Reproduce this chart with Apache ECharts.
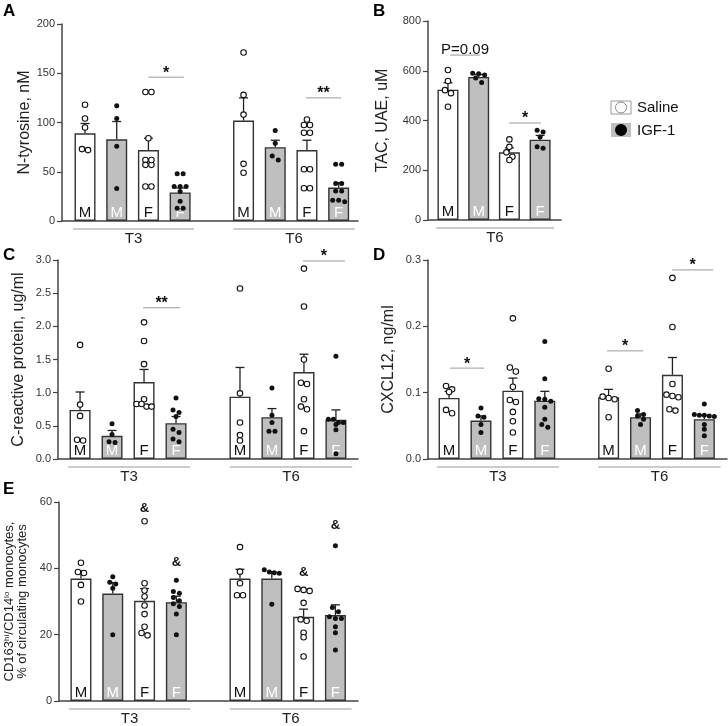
<!DOCTYPE html>
<html><head><meta charset="utf-8">
<script src="https://cdn.jsdelivr.net/npm/echarts@6/dist/echarts.min.js"></script>
<style>html,body{margin:0;padding:0;background:#fff}#c{width:728px;height:726px}</style>
</head><body><div id="c"></div><script>
const FONT = "'Liberation Sans', Arial, Helvetica, sans-serif";

// ---------- shared categories ----------
const groupX = [0, 1, 2, 3, 5, 6, 7, 8];
const groupSex = ['M', 'M', 'F', 'F', 'M', 'M', 'F', 'F'];
const groupTreat = ['Saline', 'IGF-1', 'Saline', 'IGF-1', 'Saline', 'IGF-1', 'Saline', 'IGF-1'];
const timeLabels = ['T3', 'T6'];
const timeSpans = [[-0.38, 3.44], [4.68, 8.51]];

const bGroupX = [0, 1, 2, 3];
const bSex = ['M', 'M', 'F', 'F'];
const bTreat = ['Saline', 'IGF-1', 'Saline', 'IGF-1'];
const bTimeLabels = ['T6'];
const bTimeSpans = [[-0.39, 3.45]];

// ---------- Panel A: N-tyrosine, nM ----------
const aMean = [89, 83, 72, 29, 102, 75, 72, 34];
const aSem = [10, 18, 12, 4.5, 23, 7, 10, 5];
const aPoints = [
  [118, 104, 95, 73, 72],
  [117, 104, 76, 33],
  [131, 131, 84, 62, 57, 57, 62, 35, 35],
  [48, 48, 35, 35, 35, 30, 20, 13, 13],
  [171, 128, 108, 58, 49],
  [92, 79, 66, 62],
  [103, 97.5, 97.5, 89.6, 89.6, 52.5, 52.5, 33.2, 33.2],
  [57.5, 57.5, 38, 38, 30.5, 30.5, 21, 19.5, 21]
];
const aSig = [{from: 2, to: 3.12, y: 146, text: '*'}, {from: 6.97, to: 8.08, y: 125, text: '**'}];

// ---------- Panel B: TAC, UAE, uM ----------
const bMean = [524, 575, 272, 323];
const bSem = [28, 10, 18, 17];
const bPoints = [
  [603, 559, 522, 510, 455],
  [590, 588, 583, 571, 553],
  [324, 294, 272, 254, 241],
  [361, 354, 334, 294, 288]
];
const bSig = [{from: 0.07, to: 1.04, y: 663, text: 'P=0.09', p: true}, {from: 1.99, to: 3.03, y: 390, text: '*'}];

// ---------- Panel C: C-reactive protein, ug/ml ----------
const cMean = [0.74, 0.35, 1.16, 0.54, 0.94, 0.63, 1.31, 0.59];
const cSem = [0.27, 0.08, 0.19, 0.10, 0.44, 0.13, 0.27, 0.15];
const cPoints = [
  [1.72, 0.82, 0.65, 0.29, 0.28],
  [0.53, 0.37, 0.25, 0.26],
  [2.06, 1.78, 1.43, 0.90, 0.83, 0.79, 0.79, 0.83],
  [0.92, 0.74, 0.70, 0.64, 0.45, 0.40, 0.30, 0.26],
  [2.57, 0.99, 0.55, 0.36, 0.28],
  [1.07, 0.66, 0.55, 0.42, 0.42],
  [2.87, 2.30, 1.50, 1.15, 1.13, 0.90, 0.79, 0.75, 0.42],
  [1.55, 0.60, 0.60, 0.55, 0.55, 0.52, 0.44, 0.08]
];
const cSig = [{from: 1.97, to: 3.13, y: 2.28, text: '**'}, {from: 6.97, to: 8.28, y: 2.985, text: '*'}];

// ---------- Panel D: CXCL12, ng/ml ----------
const dMean = [0.092, 0.058, 0.103, 0.088, 0.093, 0.063, 0.127, 0.060];
const dSem = [0.010, 0.007, 0.019, 0.014, 0.012, 0.005, 0.026, 0.006];
const dPoints = [
  [0.110, 0.105, 0.101, 0.074, 0.069],
  [0.077, 0.065, 0.063, 0.052, 0.040],
  [0.212, 0.138, 0.132, 0.109, 0.089, 0.086, 0.071, 0.057, 0.040],
  [0.177, 0.121, 0.091, 0.090, 0.087, 0.078, 0.060, 0.052, 0.048],
  [0.136, 0.094, 0.092, 0.090, 0.063],
  [0.073, 0.067, 0.065, 0.060, 0.052],
  [0.273, 0.199, 0.113, 0.097, 0.095, 0.093, 0.075, 0.073],
  [0.083, 0.067, 0.066, 0.066, 0.065, 0.064, 0.052, 0.045, 0.035]
];
const dSig = [
  {from: 0.03, to: 1.10, y: 0.137, text: '*'},
  {from: 4.95, to: 6.08, y: 0.163, text: '*'},
  {from: 6.99, to: 8.28, y: 0.285, text: '*'}
];

// ---------- Panel E: CD163hi/CD14lo monocytes ----------
const eMean = [36.9, 32.4, 30.2, 29.8, 36.9, 36.9, 25.4, 25.9];
const eSem = [2.3, 3.3, 3.7, 1.8, 2.8, 2.1, 2.3, 3.1];
const ePoints = [
  [41.7, 38.9, 38.6, 35.0, 30.0],
  [37.5, 35.8, 35.3, 34.0, 20.0],
  [54.2, 35.5, 33.3, 31.5, 28.8, 26.2, 22.4, 20.5, 19.8],
  [36.4, 33.0, 32.5, 31.2, 30.2, 29.3, 28.5, 26.2, 20.0],
  [46.4, 39.0, 35.5, 31.9, 31.9],
  [39.6, 38.9, 38.7, 38.5, 29.2],
  [33.8, 33.2, 33.5, 29.6, 24.6, 24.2, 20.6, 19.2, 13.4],
  [46.8, 28.2, 26.9, 25.4, 24.9, 24.9, 22.4, 20.6, 15.4]
];
const eMarks = [{x: 2, y: 58.2, text: '&'}, {x: 3, y: 41.9, text: '&'}, {x: 7, y: 38.9, text: '&'}, {x: 8, y: 52.8, text: '&'}];

// ---------- layout ----------
const panels = [
  {letter: 'A', lx: 3, ly: 3, grid: [62, 24, 296, 197], xr: [-0.726, 8.61], yr: [0, 200, 50], dec: 0,
   name: 'N-tyrosine, nM', nameSize: 16, gap: 25,
   xs: groupX, sex: groupSex, treat: groupTreat, mean: aMean, sem: aSem, pts: aPoints,
   tl: timeLabels, ts: timeSpans, sig: aSig, marks: []},
  {letter: 'B', lx: 373, ly: 3, grid: [428, 21, 133, 199], xr: [-0.65, 3.68], yr: [0, 800, 200], dec: 0,
   name: 'TAC, UAE, uM', nameSize: 16, gap: 37,
   xs: bGroupX, sex: bSex, treat: bTreat, mean: bMean, sem: bSem, pts: bPoints,
   tl: bTimeLabels, ts: bTimeSpans, sig: bSig, marks: []},
  {letter: 'C', lx: 3, ly: 247, grid: [58, 260, 300, 199], xr: [-0.69, 8.69], yr: [0, 3, 0.5], dec: 1,
   name: 'C-reactive protein, ug/ml', nameSize: 16, gap: 31,
   xs: groupX, sex: groupSex, treat: groupTreat, mean: cMean, sem: cSem, pts: cPoints,
   tl: timeLabels, ts: timeSpans, sig: cSig, marks: []},
  {letter: 'D', lx: 373, ly: 247, grid: [428, 260, 299, 199], xr: [-0.66, 8.71], yr: [0, 0.3, 0.1], dec: 1,
   name: 'CXCL12, ng/ml', nameSize: 16, gap: 31,
   xs: groupX, sex: groupSex, treat: groupTreat, mean: dMean, sem: dSem, pts: dPoints,
   tl: timeLabels, ts: timeSpans, sig: dSig, marks: []},
  {letter: 'E', lx: 3, ly: 481, grid: [59, 502, 299, 199], xr: [-0.69, 8.71], yr: [0, 60, 20], dec: 0,
   name: '{a|CD163}{s|hi}{a|/CD14}{s|lo}{a| monocytes,}\n{a|% of circulating monocytes}', nameSize: 13, gap: 30, rich: true,
   xs: groupX, sex: groupSex, treat: groupTreat, mean: eMean, sem: eSem, pts: ePoints,
   tl: timeLabels, ts: timeSpans, sig: [], marks: eMarks}
];

const AXIS = '#444', BARGREY = '#bfbfbf';

function swarm(values, pxPerY, pxPerX) {
  const idx = values.map((v, i) => i).sort((a, b) => values[b] - values[a]);
  const rows = []; let cur = null;
  idx.forEach(i => {
    if (cur && (values[cur[0]] - values[i]) * pxPerY < 4.5) cur.push(i);
    else { cur = [i]; rows.push(cur); }
  });
  const off = new Array(values.length).fill(0);
  rows.forEach(r => {
    const n = r.length;
    const sp = n > 3 ? 5 : 6;
    r.forEach((i, k) => { off[i] = (k - (n - 1) / 2) * sp / pxPerX; });
  });
  return off;
}

const grids = [], xAxes = [], yAxes = [], series = [], graphics = [];

panels.forEach((P, pi) => {
  const [gl, gt, gw, gh] = P.grid;
  grids.push({left: gl, top: gt, width: gw, height: gh, containLabel: false});
  xAxes.push({gridIndex: pi, type: 'value', min: P.xr[0], max: P.xr[1],
    axisLine: {show: true, onZero: false, lineStyle: {color: AXIS, width: 1.5}},
    axisTick: {show: false}, axisLabel: {show: false}, splitLine: {show: false}});
  const nameStyle = {fontSize: P.nameSize, fontFamily: FONT, color: '#222'};
  if (P.rich) {
    nameStyle.lineHeight = 13;
    nameStyle.rich = {
      a: {fontSize: 13, fontFamily: FONT, color: '#222', lineHeight: 13},
      s: {fontSize: 8, fontFamily: FONT, color: '#222', lineHeight: 13, verticalAlign: 'top', padding: [0, 0, 5, 0]}
    };
  }
  yAxes.push({gridIndex: pi, type: 'value', min: P.yr[0], max: P.yr[1], interval: P.yr[2],
    name: P.name, nameLocation: 'middle', nameGap: P.gap, nameRotate: 90, nameTextStyle: nameStyle,
    axisLine: {show: true, onZero: false, lineStyle: {color: AXIS, width: 1.5}},
    axisTick: {show: true, length: 5, lineStyle: {color: AXIS, width: 1.2}},
    axisLabel: {fontSize: 11, fontFamily: FONT, color: '#333', margin: 7,
      formatter: v => v.toFixed(P.dec)},
    splitLine: {show: false}});

  const pxPerY = gh / (P.yr[1] - P.yr[0]);
  const pxPerX = gw / (P.xr[1] - P.xr[0]);

  // bars
  series.push({type: 'bar', xAxisIndex: pi, yAxisIndex: pi, barWidth: 21, z: 2,
    itemStyle: {borderColor: '#333', borderWidth: 1.4},
    label: {show: true, position: 'insideBottom', distance: 1, fontSize: 15, fontFamily: FONT,
      formatter: p => P.sex[p.dataIndex]},
    data: P.xs.map((x, i) => ({
      value: [x, P.mean[i]],
      itemStyle: {color: P.treat[i] === 'Saline' ? '#ffffff' : BARGREY},
      label: {color: P.treat[i] === 'Saline' ? '#111' : '#ffffff'}
    }))});

  // error bars (mean + SEM)
  series.push({type: 'custom', xAxisIndex: pi, yAxisIndex: pi, z: 3, silent: true,
    data: P.xs.map((x, i) => [x, P.mean[i], P.sem[i]]),
    renderItem: (params, api) => {
      const x = api.value(0), m = api.value(1), s = api.value(2);
      const p0 = api.coord([x, m]), p1 = api.coord([x, m + s]);
      const st = {stroke: '#222', lineWidth: 1.3};
      return {type: 'group', children: [
        {type: 'line', shape: {x1: p0[0], y1: p0[1], x2: p1[0], y2: p1[1]}, style: st},
        {type: 'line', shape: {x1: p1[0] - 4.5, y1: p1[1], x2: p1[0] + 4.5, y2: p1[1]}, style: st}
      ]};
    }});

  // individual points
  const openData = [], fillData = [];
  P.pts.forEach((vals, gi) => {
    const off = swarm(vals, pxPerY, pxPerX);
    vals.forEach((v, k) => {
      (P.treat[gi] === 'Saline' ? openData : fillData).push([P.xs[gi] + off[k], v]);
    });
  });
  series.push({type: 'scatter', xAxisIndex: pi, yAxisIndex: pi, z: 4, silent: true,
    symbol: 'circle', symbolSize: 5.5,
    itemStyle: {color: '#fff', borderColor: '#111', borderWidth: 1.1, opacity: 1},
    data: openData});
  series.push({type: 'scatter', xAxisIndex: pi, yAxisIndex: pi, z: 4, silent: true,
    symbol: 'circle', symbolSize: 5,
    itemStyle: {color: '#111', opacity: 1},
    data: fillData});

  // annotations: time group brackets, significance bars, & marks
  const annots = [];
  P.tl.forEach((lab, i) => annots.push({kind: 'time', from: P.ts[i][0], to: P.ts[i][1], text: lab}));
  P.sig.forEach(s => annots.push(Object.assign({kind: 'sig'}, s)));
  P.marks.forEach(m => annots.push(Object.assign({kind: 'mark'}, m)));
  series.push({type: 'custom', xAxisIndex: pi, yAxisIndex: pi, z: 5, silent: true, clip: false,
    data: annots.map(() => [0, 0]),
    renderItem: (params, api) => {
      const a = annots[params.dataIndex];
      if (a.kind === 'time') {
        const p0 = api.coord([a.from, P.yr[0]]), p1 = api.coord([a.to, P.yr[0]]);
        const y = p0[1] + 8;
        return {type: 'group', children: [
          {type: 'line', shape: {x1: p0[0], y1: y, x2: p1[0], y2: y}, style: {stroke: '#999', lineWidth: 1}},
          {type: 'text', x: (p0[0] + p1[0]) / 2, y: y + 2,
           style: {text: a.text, fontSize: 15, fontFamily: FONT, fill: '#222', align: 'center', verticalAlign: 'top'}}
        ]};
      }
      if (a.kind === 'sig') {
        const p0 = api.coord([a.from, a.y]), p1 = api.coord([a.to, a.y]);
        const y = p0[1];
        const txt = a.p
          ? {type: 'text', x: (p0[0] + p1[0]) / 2, y: y + 2,
             style: {text: a.text, fontSize: 15, fontFamily: FONT, fill: '#111', align: 'center', verticalAlign: 'bottom'}}
          : {type: 'text', x: (p0[0] + p1[0]) / 2, y: y - 4,
             style: {text: a.text, fontSize: 16, fontWeight: 'bold', fontFamily: FONT, fill: '#111', align: 'center', verticalAlign: 'middle'}};
        return {type: 'group', children: [
          {type: 'line', shape: {x1: p0[0], y1: y, x2: p1[0], y2: y}, style: {stroke: '#9a9a9a', lineWidth: 1}},
          txt
        ]};
      }
      const p = api.coord([a.x, a.y]);
      return {type: 'text', x: p[0], y: p[1],
        style: {text: a.text, fontSize: 13, fontWeight: 'bold', fontFamily: FONT, fill: '#111', align: 'center', verticalAlign: 'middle'}};
    }});

  graphics.push({type: 'text', left: P.lx, top: P.ly,
    style: {text: P.letter, fontSize: 17, fontWeight: 'bold', fontFamily: FONT, fill: '#000'}});
});

// legend (panel B)
const legendItems = ['Saline', 'IGF-1'];
graphics.push(
  {type: 'rect', shape: {x: 611, y: 101, width: 20, height: 13}, style: {fill: '#fff', stroke: '#999', lineWidth: 1}},
  {type: 'circle', shape: {cx: 621, cy: 107.5, r: 5.5}, style: {fill: '#fff', stroke: '#888', lineWidth: 1}},
  {type: 'text', x: 637, y: 108, style: {text: legendItems[0], fontSize: 15, fontFamily: FONT, fill: '#111', verticalAlign: 'middle'}},
  {type: 'rect', shape: {x: 611, y: 123, width: 20, height: 14}, style: {fill: BARGREY}},
  {type: 'circle', shape: {cx: 621, cy: 130, r: 6}, style: {fill: '#000'}},
  {type: 'text', x: 637, y: 130.5, style: {text: legendItems[1], fontSize: 15, fontFamily: FONT, fill: '#111', verticalAlign: 'middle'}}
);

const chart = echarts.init(document.getElementById('c'), null, {renderer: 'canvas'});
chart.setOption({
  animation: false,
  backgroundColor: '#fff',
  textStyle: {fontFamily: FONT},
  grid: grids, xAxis: xAxes, yAxis: yAxes, series: series, graphic: graphics
});
</script></body></html>
